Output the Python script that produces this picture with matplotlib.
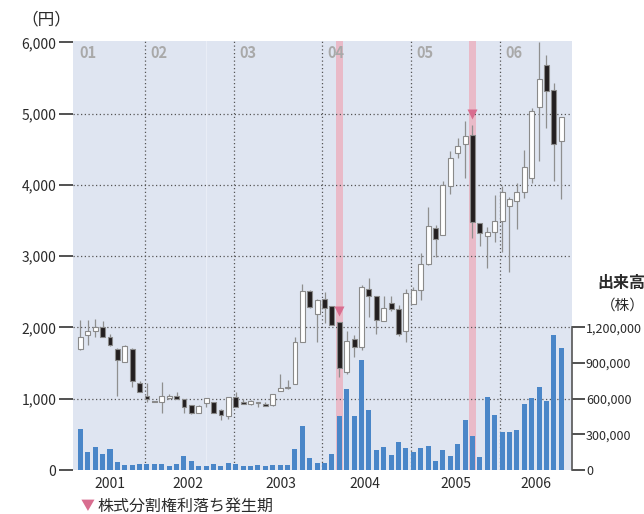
import matplotlib
matplotlib.use("Agg")
import matplotlib.pyplot as plt

# -----------------------------
# Data (monthly candles, prices in yen, volume in shares)
# -----------------------------
opens = [1700, 1900, 1945, 2010, 1870, 1700, 1515, 1700, 1220, 1040,
         970, 950, 1010, 1045, 995, 910, 805, 940, 955, 840,
         760, 1020, 955, 920, 945, 925, 910, 1110, 1145, 1205,
         1800, 2510, 2190, 2400, 2295, 2070, 1380, 1835, 1730, 2540,
         2440, 2095, 2340, 2265, 1945, 2330, 2525, 2885, 3395, 3300,
         3980, 4450, 4575, 4695, 3465, 3290, 3345, 3500, 3700, 3780,
         3900, 4095, 5095, 5680, 5335, 4610]
highs = [2100, 2100, 2120, 2090, 1905, 1705, 1755, 1705, 1245, 1220,
         975, 1230, 1070, 1090, 1000, 915, 910, 1010, 960, 860,
         1025, 1095, 995, 980, 955, 950, 1070, 1350, 1265, 1860,
         2615, 2530, 2405, 2500, 2300, 2080, 1955, 1895, 2600, 2690,
         2445, 2445, 2435, 2320, 2540, 2565, 3045, 3690, 3440, 4050,
         4470, 4665, 4900, 4845, 3470, 3405, 3860, 3980, 3825, 4025,
         4495, 5080, 6005, 5830, 5430, 4950]
lows = [1690, 1750, 1870, 1865, 1745, 1040, 1510, 1160, 1090, 960,
        950, 795, 995, 990, 800, 790, 800, 890, 800, 705,
        720, 885, 920, 910, 890, 900, 905, 1105, 1140, 1200,
        1795, 2280, 1790, 2060, 2030, 1310, 1345, 1580, 1685, 2145,
        1910, 2090, 2230, 1880, 1800, 2325, 2390, 2880, 2995, 3295,
        3870, 4385, 4095, 3255, 3150, 2840, 3205, 3065, 2785, 3385,
        3815, 4030, 4330, 4800, 4050, 3800]
closes = [1870, 1945, 2010, 1870, 1750, 1550, 1735, 1245, 1095, 995,
          955, 1040, 1040, 995, 890, 795, 900, 1005, 805, 765,
          1020, 890, 925, 975, 950, 905, 1065, 1145, 1165, 1800,
          2510, 2285, 2385, 2275, 2035, 1430, 1805, 1730, 2565, 2435,
          2105, 2280, 2265, 1910, 2485, 2520, 2885, 3430, 3240, 3995,
          4385, 4550, 4680, 3480, 3325, 3345, 3490, 3900, 3805, 3900,
          4250, 5040, 5485, 5315, 4580, 4950]
volume = [345000, 155000, 192000, 138000, 180000, 65000, 45000, 45000, 51000, 54000,
          54000, 48000, 31000, 51000, 119000, 79000, 34000, 34000, 51000, 34000,
          57000, 54000, 34000, 34000, 40000, 34000, 42000, 40000, 42000, 178000,
          373000, 103000, 55000, 60000, 136000, 457000, 686000, 455000, 923000, 505000,
          167000, 195000, 130000, 234000, 186000, 152000, 189000, 200000, 79000, 169000,
          119000, 220000, 421000, 288000, 110000, 618000, 460000, 316000, 316000, 339000,
          559000, 610000, 703000, 584000, 1135000, 1028000]

split_idx = [35, 53]                      # months with stock split ex-rights
fy_labels = ["01", "02", "03", "04", "05", "06"]
fy_starts = [8.7, 20.7, 32.7, 44.7, 56.7]  # fiscal year borders (candle index)
year_labels = ["2001", "2002", "2003", "2004", "2005", "2006"]
year_idx = [4.0, 14.6, 27.1, 38.4, 50.8, 61.6]

price_ticks = [0, 1000, 2000, 3000, 4000, 5000, 6000]
vol_ticks = [0, 300000, 600000, 900000, 1200000]

# -----------------------------
# Style
# -----------------------------
plt.rcParams['font.family'] = ['Liberation Sans Narrow', 'Noto Sans CJK JP', 'DejaVu Sans']
BG = '#dfe5f1'
PINK = '#e9bac8'
MARK = '#d86d8f'
BLUE = '#4a86c8'
DARK = '#231f20'
TXT = '#2a2a2a'

fig = plt.figure(figsize=(6.44, 5.14), dpi=100)
ax = fig.add_axes([73 / 644, 44 / 514, 499 / 644, 429 / 514])
ax.set_facecolor(BG)
ax.set_xlim(-1, 66.45)
ax.set_ylim(0, 6020)
for s in ax.spines.values():
    s.set_visible(False)

# grid lines
for p in price_ticks[1:-1]:
    ax.axhline(p, color='#555555', lw=0.9, ls=(0, (1, 2)), zorder=1)
for x in fy_starts:
    ax.axvline(x, color='#555555', lw=0.9, ls=(0, (1, 2)), zorder=1)
ax.axvline(16.95, color='#e9edf6', lw=0.8, zorder=0.8)

# split bands
for i in split_idx:
    ax.axvspan(i - 0.43, i + 0.43, color=PINK, lw=0, zorder=0.9)
    ax.plot(i, highs[i] + 150, marker='v', ms=7.5, color=MARK, mec='none', zorder=5)

# -----------------------------
# Candles
# -----------------------------
n = len(opens)
xs = list(range(n))
ax.vlines(xs, lows, highs, color='#8f8f8f', lw=0.9, zorder=3)
bottoms = [min(o, c) for o, c in zip(opens, closes)]
heights = [max(abs(c - o), 15) for o, c in zip(opens, closes)]
fills = ['white' if c >= o else DARK for o, c in zip(opens, closes)]
ax.bar(xs, heights, bottom=bottoms, width=0.66, color=fills,
       edgecolor='#8a8a8a', linewidth=0.8, zorder=4)

ax.set_yticks(price_ticks)
ax.set_yticklabels([f"{p:,}" for p in price_ticks])
ax.tick_params(axis='y', length=10, width=1.2, color='#333333', pad=2,
               labelsize=10, labelcolor=TXT)
ax.set_xticks(year_idx)
ax.set_xticklabels(year_labels)
ax.tick_params(axis='x', length=0, pad=5, labelsize=10, labelcolor=TXT)

for k, lab in enumerate(fy_labels):
    x = -0.1 if k == 0 else fy_starts[k - 1] + 0.75
    ax.text(x, 0.973, lab, transform=ax.get_xaxis_transform(), ha='left', va='center',
            fontsize=10.5, fontweight='bold', color='#a9a9a9', zorder=6)

# -----------------------------
# Volume
# -----------------------------
ax2 = ax.twinx()
ax2.set_ylim(0, 6020 * 600)
ax2.bar(xs, volume, width=0.68, color=BLUE, zorder=2)
for s in ['top', 'left', 'bottom']:
    ax2.spines[s].set_visible(False)
ax2.spines['right'].set_bounds(0, 1200000)
ax2.spines['right'].set_color('#555555')
ax2.spines['right'].set_linewidth(1.2)
ax2.set_yticks(vol_ticks)
ax2.set_yticklabels([f"{v:,}" for v in vol_ticks])
ax2.tick_params(axis='y', length=9, width=1.2, color='#333333', pad=1,
                labelsize=9, labelcolor=TXT)

# -----------------------------
# Labels
# -----------------------------
fig.text(46 / 644, 1 - 20 / 514, "（円）", ha='center', va='center', fontsize=12, color=TXT)
fig.text(597 / 644, 1 - 283 / 514, "出来高", ha='left', va='center', fontsize=11.5,
         fontweight='bold', color=TXT)
fig.text(601 / 644, 1 - 306 / 514, "（株）", ha='left', va='center', fontsize=10.5, color=TXT)
fig.text(81 / 644, 1 - 506 / 514, "▼", ha='left', va='center', fontsize=10, color=MARK)
fig.text(97 / 644, 1 - 506 / 514, "株式分割権利落ち発生期", ha='left', va='center',
         fontsize=11.5, color=TXT)

fig.savefig("out.png", dpi=100)
